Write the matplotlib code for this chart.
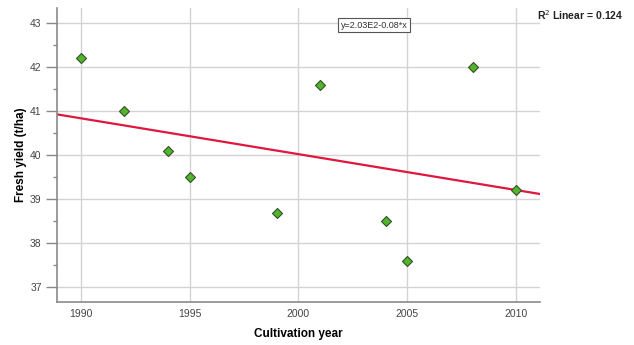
import numpy as np
import matplotlib.pyplot as plt
from matplotlib.ticker import MultipleLocator

plt.rcParams['font.family'] = ['Liberation Sans', 'DejaVu Sans']

# Cultivation year vs fresh yield
years = [1990, 1992, 1994, 1995, 1999, 2001, 2004, 2005, 2008, 2010]
yield_tha = [42.2, 41.0, 40.1, 39.5, 38.7, 41.6, 38.5, 37.6, 42.0, 39.2]
x_ticks = [1990, 1995, 2000, 2005, 2010]
y_ticks = [37, 38, 39, 40, 41, 42, 43]
fit_label = 'y=2.03E2-0.08*x'
r2_value = 0.124

fig = plt.figure(figsize=(6.34, 3.45), dpi=100)
ax = fig.add_axes([57 / 634, 1 - 302 / 345, (540 - 57) / 634, (302 - 8) / 345])

ax.set_xlim(1988.9, 2011.1)
ax.set_ylim(36.67, 43.34)
ax.set_xticks(x_ticks)
ax.set_yticks(y_ticks)
ax.yaxis.set_minor_locator(MultipleLocator(0.5))
ax.grid(True, color='#d4d4d4', linewidth=1.0)
ax.set_axisbelow(True)

# least-squares fit line across the full x range
slope, intercept = np.polyfit(years, yield_tha, 1)
xs = np.array(ax.get_xlim())
ax.plot(xs, intercept + slope * xs, color='#e0173f', linewidth=1.6, zorder=2)

ax.scatter(years, yield_tha, marker='D', s=26, color='#52b52a',
           edgecolor='#34502a', linewidth=0.8, zorder=3)

for side in ['top', 'right']:
    ax.spines[side].set_visible(False)
for side in ['left', 'bottom']:
    ax.spines[side].set_color('#8a8a8a')
    ax.spines[side].set_linewidth(1.2)

ax.tick_params(axis='x', length=0, pad=5, labelsize=7.5, labelcolor='#444444')
ax.tick_params(axis='y', which='major', length=8, width=1, color='#8a8a8a',
               labelsize=7.5, labelcolor='#444444', pad=3)
ax.tick_params(axis='y', which='minor', length=3, width=1, color='#8a8a8a')

ax.set_xlabel('Cultivation year', fontsize=8.5, fontweight='bold')
ax.set_ylabel('Fresh yield (t/ha)', fontsize=8.5, fontweight='bold')
ax.xaxis.set_label_coords(0.5, -(328 - 302) / (302 - 8))
ax.yaxis.set_label_coords(-(57 - 27) / (540 - 57), 0.5)

ax.text(374 / 634, 1 - 25 / 345, fit_label, transform=fig.transFigure,
        fontsize=6.5, color='#333333', ha='center', va='center',
        bbox=dict(boxstyle='square,pad=0.25', facecolor='white',
                  edgecolor='#555555', linewidth=0.8))
fig.text(580 / 634, 1 - 15 / 345, f'R$^2$ Linear = {r2_value}',
         fontsize=7.5, fontweight='bold', color='#222222', ha='center', va='center')

fig.savefig('out.png', dpi=100)
